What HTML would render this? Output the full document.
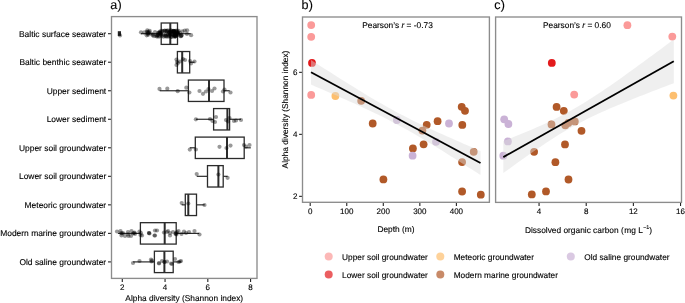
<!DOCTYPE html>
<html><head><meta charset="utf-8"><style>
html,body{margin:0;padding:0;background:#fff;width:685px;height:303px;overflow:hidden}
svg{display:block;will-change:transform}
text{font-family:"Liberation Sans", sans-serif;text-rendering:geometricPrecision;stroke:#000;stroke-width:0.12px}
</style></head><body>
<svg width="685" height="303" viewBox="0 0 685 303">
<rect width="685" height="303" fill="#fff"/>
<rect x="111.50" y="16.60" width="145.50" height="261.80" fill="none" stroke="#8c8c8c" stroke-width="1.35"/>
<line x1="141.00" y1="33.70" x2="161.20" y2="33.70" stroke="#2b2b2b" stroke-width="1.2" />
<line x1="177.50" y1="33.70" x2="190.60" y2="33.70" stroke="#2b2b2b" stroke-width="1.2" />
<rect x="161.20" y="23.00" width="16.30" height="21.40" fill="none" stroke="#2b2b2b" stroke-width="1.3"/>
<line x1="170.30" y1="23.00" x2="170.30" y2="44.40" stroke="#2b2b2b" stroke-width="2.0" />
<line x1="177.40" y1="62.23" x2="177.40" y2="62.23" stroke="#2b2b2b" stroke-width="1.2" />
<line x1="189.70" y1="62.23" x2="194.60" y2="62.23" stroke="#2b2b2b" stroke-width="1.2" />
<rect x="177.40" y="51.53" width="12.30" height="21.40" fill="none" stroke="#2b2b2b" stroke-width="1.3"/>
<line x1="182.20" y1="51.53" x2="182.20" y2="72.92" stroke="#2b2b2b" stroke-width="2.0" />
<line x1="159.70" y1="90.75" x2="188.40" y2="90.75" stroke="#2b2b2b" stroke-width="1.2" />
<line x1="224.00" y1="90.75" x2="229.70" y2="90.75" stroke="#2b2b2b" stroke-width="1.2" />
<rect x="188.40" y="80.05" width="35.60" height="21.40" fill="none" stroke="#2b2b2b" stroke-width="1.3"/>
<line x1="209.00" y1="80.05" x2="209.00" y2="101.45" stroke="#2b2b2b" stroke-width="2.0" />
<line x1="195.90" y1="119.27" x2="213.60" y2="119.27" stroke="#2b2b2b" stroke-width="1.2" />
<line x1="229.60" y1="119.27" x2="241.00" y2="119.27" stroke="#2b2b2b" stroke-width="1.2" />
<rect x="213.60" y="108.57" width="16.00" height="21.40" fill="none" stroke="#2b2b2b" stroke-width="1.3"/>
<line x1="227.40" y1="108.57" x2="227.40" y2="129.97" stroke="#2b2b2b" stroke-width="2.0" />
<line x1="189.80" y1="147.80" x2="195.30" y2="147.80" stroke="#2b2b2b" stroke-width="1.2" />
<line x1="244.20" y1="147.80" x2="250.80" y2="147.80" stroke="#2b2b2b" stroke-width="1.2" />
<rect x="195.30" y="137.10" width="48.90" height="21.40" fill="none" stroke="#2b2b2b" stroke-width="1.3"/>
<line x1="227.00" y1="137.10" x2="227.00" y2="158.50" stroke="#2b2b2b" stroke-width="2.0" />
<line x1="196.70" y1="176.32" x2="207.50" y2="176.32" stroke="#2b2b2b" stroke-width="1.2" />
<line x1="223.20" y1="176.32" x2="227.60" y2="176.32" stroke="#2b2b2b" stroke-width="1.2" />
<rect x="207.50" y="165.62" width="15.70" height="21.40" fill="none" stroke="#2b2b2b" stroke-width="1.3"/>
<line x1="218.40" y1="165.62" x2="218.40" y2="187.02" stroke="#2b2b2b" stroke-width="2.0" />
<line x1="181.70" y1="204.85" x2="185.30" y2="204.85" stroke="#2b2b2b" stroke-width="1.2" />
<line x1="196.50" y1="204.85" x2="204.70" y2="204.85" stroke="#2b2b2b" stroke-width="1.2" />
<rect x="185.30" y="194.15" width="11.20" height="21.40" fill="none" stroke="#2b2b2b" stroke-width="1.3"/>
<line x1="188.30" y1="194.15" x2="188.30" y2="215.55" stroke="#2b2b2b" stroke-width="2.0" />
<line x1="117.90" y1="233.38" x2="140.40" y2="233.38" stroke="#2b2b2b" stroke-width="1.2" />
<line x1="176.20" y1="233.38" x2="199.20" y2="233.38" stroke="#2b2b2b" stroke-width="1.2" />
<rect x="140.40" y="222.68" width="35.80" height="21.40" fill="none" stroke="#2b2b2b" stroke-width="1.3"/>
<line x1="164.70" y1="222.68" x2="164.70" y2="244.07" stroke="#2b2b2b" stroke-width="2.0" />
<line x1="133.10" y1="261.90" x2="154.40" y2="261.90" stroke="#2b2b2b" stroke-width="1.2" />
<line x1="173.20" y1="261.90" x2="181.00" y2="261.90" stroke="#2b2b2b" stroke-width="1.2" />
<rect x="154.40" y="251.20" width="18.80" height="21.40" fill="none" stroke="#2b2b2b" stroke-width="1.3"/>
<line x1="164.40" y1="251.20" x2="164.40" y2="272.60" stroke="#2b2b2b" stroke-width="2.0" />
<circle cx="141.00" cy="32.30" r="2.1" fill="#000" fill-opacity="0.4"/>
<circle cx="147.30" cy="30.30" r="2.1" fill="#000" fill-opacity="0.4"/>
<circle cx="148.50" cy="33.00" r="2.1" fill="#000" fill-opacity="0.4"/>
<circle cx="151.00" cy="33.50" r="2.1" fill="#000" fill-opacity="0.4"/>
<circle cx="153.00" cy="34.50" r="2.1" fill="#000" fill-opacity="0.4"/>
<circle cx="156.00" cy="36.00" r="2.1" fill="#000" fill-opacity="0.4"/>
<circle cx="155.00" cy="32.00" r="2.1" fill="#000" fill-opacity="0.4"/>
<circle cx="158.00" cy="33.00" r="2.1" fill="#000" fill-opacity="0.4"/>
<circle cx="160.00" cy="31.50" r="2.1" fill="#000" fill-opacity="0.4"/>
<circle cx="161.00" cy="34.50" r="2.1" fill="#000" fill-opacity="0.4"/>
<circle cx="162.00" cy="36.00" r="2.1" fill="#000" fill-opacity="0.4"/>
<circle cx="170.34" cy="34.70" r="2.1" fill="#000" fill-opacity="0.4"/>
<circle cx="175.32" cy="30.88" r="2.1" fill="#000" fill-opacity="0.4"/>
<circle cx="165.95" cy="30.78" r="2.1" fill="#000" fill-opacity="0.4"/>
<circle cx="170.61" cy="33.75" r="2.1" fill="#000" fill-opacity="0.4"/>
<circle cx="178.74" cy="30.86" r="2.1" fill="#000" fill-opacity="0.4"/>
<circle cx="173.62" cy="31.00" r="2.1" fill="#000" fill-opacity="0.4"/>
<circle cx="161.17" cy="31.22" r="2.1" fill="#000" fill-opacity="0.4"/>
<circle cx="177.56" cy="31.87" r="2.1" fill="#000" fill-opacity="0.4"/>
<circle cx="161.01" cy="34.21" r="2.1" fill="#000" fill-opacity="0.4"/>
<circle cx="160.66" cy="33.02" r="2.1" fill="#000" fill-opacity="0.4"/>
<circle cx="173.99" cy="36.07" r="2.1" fill="#000" fill-opacity="0.4"/>
<circle cx="171.70" cy="32.31" r="2.1" fill="#000" fill-opacity="0.4"/>
<circle cx="174.01" cy="32.44" r="2.1" fill="#000" fill-opacity="0.4"/>
<circle cx="174.56" cy="35.79" r="2.1" fill="#000" fill-opacity="0.4"/>
<circle cx="175.62" cy="34.62" r="2.1" fill="#000" fill-opacity="0.4"/>
<circle cx="179.78" cy="32.86" r="2.1" fill="#000" fill-opacity="0.4"/>
<circle cx="169.76" cy="30.79" r="2.1" fill="#000" fill-opacity="0.4"/>
<circle cx="171.31" cy="31.76" r="2.1" fill="#000" fill-opacity="0.4"/>
<circle cx="169.09" cy="32.47" r="2.1" fill="#000" fill-opacity="0.4"/>
<circle cx="165.78" cy="34.26" r="2.1" fill="#000" fill-opacity="0.4"/>
<circle cx="166.75" cy="35.64" r="2.1" fill="#000" fill-opacity="0.4"/>
<circle cx="173.59" cy="35.01" r="2.1" fill="#000" fill-opacity="0.4"/>
<circle cx="172.32" cy="33.87" r="2.1" fill="#000" fill-opacity="0.4"/>
<circle cx="180.49" cy="36.18" r="2.1" fill="#000" fill-opacity="0.4"/>
<circle cx="171.31" cy="36.87" r="2.1" fill="#000" fill-opacity="0.4"/>
<circle cx="166.69" cy="31.18" r="2.1" fill="#000" fill-opacity="0.4"/>
<circle cx="162.48" cy="31.40" r="2.1" fill="#000" fill-opacity="0.4"/>
<circle cx="177.38" cy="33.63" r="2.1" fill="#000" fill-opacity="0.4"/>
<circle cx="181.36" cy="35.45" r="2.1" fill="#000" fill-opacity="0.4"/>
<circle cx="174.35" cy="34.18" r="2.1" fill="#000" fill-opacity="0.4"/>
<circle cx="176.00" cy="34.99" r="2.1" fill="#000" fill-opacity="0.4"/>
<circle cx="168.02" cy="34.32" r="2.1" fill="#000" fill-opacity="0.4"/>
<circle cx="165.71" cy="35.94" r="2.1" fill="#000" fill-opacity="0.4"/>
<circle cx="168.55" cy="36.63" r="2.1" fill="#000" fill-opacity="0.4"/>
<circle cx="162.52" cy="30.80" r="2.1" fill="#000" fill-opacity="0.4"/>
<circle cx="173.56" cy="35.03" r="2.1" fill="#000" fill-opacity="0.4"/>
<circle cx="159.65" cy="35.82" r="2.1" fill="#000" fill-opacity="0.4"/>
<circle cx="159.00" cy="32.28" r="2.1" fill="#000" fill-opacity="0.4"/>
<circle cx="164.72" cy="30.55" r="2.1" fill="#000" fill-opacity="0.4"/>
<circle cx="178.35" cy="33.45" r="2.1" fill="#000" fill-opacity="0.4"/>
<circle cx="173.60" cy="30.79" r="2.1" fill="#000" fill-opacity="0.4"/>
<circle cx="174.82" cy="35.47" r="2.1" fill="#000" fill-opacity="0.4"/>
<circle cx="175.37" cy="32.98" r="2.1" fill="#000" fill-opacity="0.4"/>
<circle cx="175.56" cy="36.15" r="2.1" fill="#000" fill-opacity="0.4"/>
<circle cx="178.21" cy="34.03" r="2.1" fill="#000" fill-opacity="0.4"/>
<circle cx="175.44" cy="36.23" r="2.1" fill="#000" fill-opacity="0.4"/>
<circle cx="177.47" cy="32.24" r="2.1" fill="#000" fill-opacity="0.4"/>
<circle cx="160.23" cy="33.14" r="2.1" fill="#000" fill-opacity="0.4"/>
<circle cx="163.48" cy="36.72" r="2.1" fill="#000" fill-opacity="0.4"/>
<circle cx="182.47" cy="31.40" r="2.1" fill="#000" fill-opacity="0.4"/>
<circle cx="174.11" cy="31.94" r="2.1" fill="#000" fill-opacity="0.4"/>
<circle cx="176.22" cy="33.60" r="2.1" fill="#000" fill-opacity="0.4"/>
<circle cx="167.70" cy="30.43" r="2.1" fill="#000" fill-opacity="0.4"/>
<circle cx="169.30" cy="33.17" r="2.1" fill="#000" fill-opacity="0.4"/>
<circle cx="166.28" cy="36.69" r="2.1" fill="#000" fill-opacity="0.4"/>
<circle cx="178.15" cy="34.96" r="2.1" fill="#000" fill-opacity="0.4"/>
<circle cx="163.03" cy="34.86" r="2.1" fill="#000" fill-opacity="0.4"/>
<circle cx="171.12" cy="30.76" r="2.1" fill="#000" fill-opacity="0.4"/>
<circle cx="181.13" cy="36.17" r="2.1" fill="#000" fill-opacity="0.4"/>
<circle cx="165.32" cy="35.67" r="2.1" fill="#000" fill-opacity="0.4"/>
<circle cx="166.88" cy="31.08" r="2.1" fill="#000" fill-opacity="0.4"/>
<circle cx="176.10" cy="34.59" r="2.1" fill="#000" fill-opacity="0.4"/>
<circle cx="174.24" cy="31.78" r="2.1" fill="#000" fill-opacity="0.4"/>
<circle cx="172.93" cy="31.47" r="2.1" fill="#000" fill-opacity="0.4"/>
<circle cx="170.85" cy="30.40" r="2.1" fill="#000" fill-opacity="0.4"/>
<circle cx="173.80" cy="31.40" r="2.1" fill="#000" fill-opacity="0.4"/>
<circle cx="176.97" cy="30.57" r="2.1" fill="#000" fill-opacity="0.4"/>
<circle cx="175.68" cy="36.17" r="2.1" fill="#000" fill-opacity="0.4"/>
<circle cx="169.22" cy="32.06" r="2.1" fill="#000" fill-opacity="0.4"/>
<circle cx="169.58" cy="32.69" r="2.1" fill="#000" fill-opacity="0.4"/>
<circle cx="169.81" cy="36.00" r="2.1" fill="#000" fill-opacity="0.4"/>
<circle cx="174.51" cy="36.95" r="2.1" fill="#000" fill-opacity="0.4"/>
<circle cx="164.69" cy="30.97" r="2.1" fill="#000" fill-opacity="0.4"/>
<circle cx="173.59" cy="31.07" r="2.1" fill="#000" fill-opacity="0.4"/>
<circle cx="169.20" cy="35.87" r="2.1" fill="#000" fill-opacity="0.4"/>
<circle cx="176.26" cy="31.47" r="2.1" fill="#000" fill-opacity="0.4"/>
<circle cx="187.00" cy="33.89" r="2.1" fill="#000" fill-opacity="0.4"/>
<circle cx="174.31" cy="31.37" r="2.1" fill="#000" fill-opacity="0.4"/>
<circle cx="170.53" cy="33.89" r="2.1" fill="#000" fill-opacity="0.4"/>
<circle cx="171.59" cy="36.86" r="2.1" fill="#000" fill-opacity="0.4"/>
<circle cx="157.81" cy="34.88" r="2.1" fill="#000" fill-opacity="0.4"/>
<circle cx="148.18" cy="32.90" r="2.1" fill="#000" fill-opacity="0.4"/>
<circle cx="146.67" cy="35.33" r="2.1" fill="#000" fill-opacity="0.4"/>
<circle cx="152.52" cy="35.37" r="2.1" fill="#000" fill-opacity="0.4"/>
<circle cx="149.27" cy="32.04" r="2.1" fill="#000" fill-opacity="0.4"/>
<circle cx="156.98" cy="36.61" r="2.1" fill="#000" fill-opacity="0.4"/>
<circle cx="157.64" cy="35.54" r="2.1" fill="#000" fill-opacity="0.4"/>
<circle cx="157.09" cy="35.14" r="2.1" fill="#000" fill-opacity="0.4"/>
<circle cx="147.63" cy="33.81" r="2.1" fill="#000" fill-opacity="0.4"/>
<circle cx="149.69" cy="30.87" r="2.1" fill="#000" fill-opacity="0.4"/>
<circle cx="144.45" cy="32.38" r="2.1" fill="#000" fill-opacity="0.4"/>
<circle cx="148.15" cy="34.86" r="2.1" fill="#000" fill-opacity="0.4"/>
<circle cx="159.30" cy="33.38" r="2.1" fill="#000" fill-opacity="0.4"/>
<circle cx="158.99" cy="36.63" r="2.1" fill="#000" fill-opacity="0.4"/>
<circle cx="159.28" cy="32.89" r="2.1" fill="#000" fill-opacity="0.4"/>
<circle cx="147.53" cy="32.06" r="2.1" fill="#000" fill-opacity="0.4"/>
<circle cx="147.15" cy="31.93" r="2.1" fill="#000" fill-opacity="0.4"/>
<circle cx="153.99" cy="36.10" r="2.1" fill="#000" fill-opacity="0.4"/>
<circle cx="184.80" cy="30.60" r="2.1" fill="#000" fill-opacity="0.4"/>
<circle cx="187.10" cy="30.30" r="2.1" fill="#000" fill-opacity="0.4"/>
<circle cx="191.10" cy="35.20" r="2.1" fill="#000" fill-opacity="0.4"/>
<circle cx="181.50" cy="35.20" r="2.1" fill="#000" fill-opacity="0.4"/>
<circle cx="120.00" cy="35.40" r="2.1" fill="#000" fill-opacity="0.4"/>
<circle cx="176.50" cy="59.50" r="2.1" fill="#000" fill-opacity="0.4"/>
<circle cx="177.00" cy="62.00" r="2.1" fill="#000" fill-opacity="0.4"/>
<circle cx="176.50" cy="65.00" r="2.1" fill="#000" fill-opacity="0.4"/>
<circle cx="178.00" cy="63.00" r="2.1" fill="#000" fill-opacity="0.4"/>
<circle cx="183.00" cy="59.00" r="2.1" fill="#000" fill-opacity="0.4"/>
<circle cx="185.00" cy="60.00" r="2.1" fill="#000" fill-opacity="0.4"/>
<circle cx="190.00" cy="61.00" r="2.1" fill="#000" fill-opacity="0.4"/>
<circle cx="191.00" cy="63.50" r="2.1" fill="#000" fill-opacity="0.4"/>
<circle cx="194.50" cy="61.50" r="2.1" fill="#000" fill-opacity="0.4"/>
<circle cx="180.00" cy="61.50" r="2.1" fill="#000" fill-opacity="0.4"/>
<circle cx="159.50" cy="88.90" r="2.1" fill="#000" fill-opacity="0.4"/>
<circle cx="167.30" cy="88.70" r="2.1" fill="#000" fill-opacity="0.4"/>
<circle cx="177.70" cy="91.20" r="2.1" fill="#000" fill-opacity="0.4"/>
<circle cx="186.30" cy="87.70" r="2.1" fill="#000" fill-opacity="0.4"/>
<circle cx="189.40" cy="92.50" r="2.1" fill="#000" fill-opacity="0.4"/>
<circle cx="199.50" cy="91.00" r="2.1" fill="#000" fill-opacity="0.4"/>
<circle cx="203.00" cy="93.80" r="2.1" fill="#000" fill-opacity="0.4"/>
<circle cx="206.00" cy="91.50" r="2.1" fill="#000" fill-opacity="0.4"/>
<circle cx="208.50" cy="89.00" r="2.1" fill="#000" fill-opacity="0.4"/>
<circle cx="212.00" cy="91.00" r="2.1" fill="#000" fill-opacity="0.4"/>
<circle cx="214.50" cy="88.50" r="2.1" fill="#000" fill-opacity="0.4"/>
<circle cx="223.00" cy="91.50" r="2.1" fill="#000" fill-opacity="0.4"/>
<circle cx="224.50" cy="89.50" r="2.1" fill="#000" fill-opacity="0.4"/>
<circle cx="230.50" cy="92.50" r="2.1" fill="#000" fill-opacity="0.4"/>
<circle cx="195.90" cy="119.30" r="2.1" fill="#000" fill-opacity="0.4"/>
<circle cx="210.00" cy="119.00" r="2.1" fill="#000" fill-opacity="0.4"/>
<circle cx="212.50" cy="121.00" r="2.1" fill="#000" fill-opacity="0.4"/>
<circle cx="216.00" cy="117.00" r="2.1" fill="#000" fill-opacity="0.4"/>
<circle cx="215.00" cy="122.00" r="2.1" fill="#000" fill-opacity="0.4"/>
<circle cx="226.00" cy="120.00" r="2.1" fill="#000" fill-opacity="0.4"/>
<circle cx="228.00" cy="121.50" r="2.1" fill="#000" fill-opacity="0.4"/>
<circle cx="229.50" cy="118.00" r="2.1" fill="#000" fill-opacity="0.4"/>
<circle cx="234.00" cy="121.00" r="2.1" fill="#000" fill-opacity="0.4"/>
<circle cx="236.00" cy="120.50" r="2.1" fill="#000" fill-opacity="0.4"/>
<circle cx="241.00" cy="120.00" r="2.1" fill="#000" fill-opacity="0.4"/>
<circle cx="189.80" cy="149.60" r="2.1" fill="#000" fill-opacity="0.4"/>
<circle cx="195.90" cy="149.50" r="2.1" fill="#000" fill-opacity="0.4"/>
<circle cx="219.50" cy="146.80" r="2.1" fill="#000" fill-opacity="0.4"/>
<circle cx="226.50" cy="148.00" r="2.1" fill="#000" fill-opacity="0.4"/>
<circle cx="230.50" cy="145.60" r="2.1" fill="#000" fill-opacity="0.4"/>
<circle cx="244.00" cy="145.00" r="2.1" fill="#000" fill-opacity="0.4"/>
<circle cx="249.50" cy="145.00" r="2.1" fill="#000" fill-opacity="0.4"/>
<circle cx="246.00" cy="146.50" r="2.1" fill="#000" fill-opacity="0.4"/>
<circle cx="196.70" cy="174.00" r="2.1" fill="#000" fill-opacity="0.4"/>
<circle cx="218.40" cy="174.50" r="2.1" fill="#000" fill-opacity="0.4"/>
<circle cx="227.60" cy="177.80" r="2.1" fill="#000" fill-opacity="0.4"/>
<circle cx="181.70" cy="203.00" r="2.1" fill="#000" fill-opacity="0.4"/>
<circle cx="188.30" cy="203.50" r="2.1" fill="#000" fill-opacity="0.4"/>
<circle cx="204.50" cy="205.00" r="2.1" fill="#000" fill-opacity="0.4"/>
<circle cx="117.00" cy="231.50" r="2.1" fill="#000" fill-opacity="0.4"/>
<circle cx="120.50" cy="231.00" r="2.1" fill="#000" fill-opacity="0.4"/>
<circle cx="121.50" cy="235.50" r="2.1" fill="#000" fill-opacity="0.4"/>
<circle cx="123.00" cy="233.00" r="2.1" fill="#000" fill-opacity="0.4"/>
<circle cx="125.00" cy="236.00" r="2.1" fill="#000" fill-opacity="0.4"/>
<circle cx="128.00" cy="234.50" r="2.1" fill="#000" fill-opacity="0.4"/>
<circle cx="128.50" cy="236.00" r="2.1" fill="#000" fill-opacity="0.4"/>
<circle cx="131.00" cy="236.00" r="2.1" fill="#000" fill-opacity="0.4"/>
<circle cx="128.00" cy="232.00" r="2.1" fill="#000" fill-opacity="0.4"/>
<circle cx="131.50" cy="231.00" r="2.1" fill="#000" fill-opacity="0.4"/>
<circle cx="134.00" cy="233.00" r="2.1" fill="#000" fill-opacity="0.4"/>
<circle cx="135.00" cy="234.00" r="2.1" fill="#000" fill-opacity="0.4"/>
<circle cx="139.50" cy="231.50" r="2.1" fill="#000" fill-opacity="0.4"/>
<circle cx="140.50" cy="235.00" r="2.1" fill="#000" fill-opacity="0.4"/>
<circle cx="142.00" cy="235.50" r="2.1" fill="#000" fill-opacity="0.4"/>
<circle cx="149.00" cy="233.00" r="2.1" fill="#000" fill-opacity="0.4"/>
<circle cx="149.00" cy="233.00" r="2.1" fill="#000" fill-opacity="0.4"/>
<circle cx="149.50" cy="233.50" r="2.1" fill="#000" fill-opacity="0.4"/>
<circle cx="155.00" cy="230.50" r="2.1" fill="#000" fill-opacity="0.4"/>
<circle cx="155.00" cy="235.50" r="2.1" fill="#000" fill-opacity="0.4"/>
<circle cx="164.00" cy="232.50" r="2.1" fill="#000" fill-opacity="0.4"/>
<circle cx="157.00" cy="230.50" r="2.1" fill="#000" fill-opacity="0.4"/>
<circle cx="154.50" cy="235.50" r="2.1" fill="#000" fill-opacity="0.4"/>
<circle cx="168.00" cy="231.00" r="2.1" fill="#000" fill-opacity="0.4"/>
<circle cx="170.00" cy="235.50" r="2.1" fill="#000" fill-opacity="0.4"/>
<circle cx="173.00" cy="232.00" r="2.1" fill="#000" fill-opacity="0.4"/>
<circle cx="176.00" cy="233.50" r="2.1" fill="#000" fill-opacity="0.4"/>
<circle cx="176.50" cy="234.50" r="2.1" fill="#000" fill-opacity="0.4"/>
<circle cx="178.50" cy="231.00" r="2.1" fill="#000" fill-opacity="0.4"/>
<circle cx="181.50" cy="234.00" r="2.1" fill="#000" fill-opacity="0.4"/>
<circle cx="184.00" cy="231.50" r="2.1" fill="#000" fill-opacity="0.4"/>
<circle cx="186.00" cy="233.00" r="2.1" fill="#000" fill-opacity="0.4"/>
<circle cx="189.00" cy="232.00" r="2.1" fill="#000" fill-opacity="0.4"/>
<circle cx="194.50" cy="231.00" r="2.1" fill="#000" fill-opacity="0.4"/>
<circle cx="199.50" cy="234.50" r="2.1" fill="#000" fill-opacity="0.4"/>
<circle cx="176.00" cy="233.00" r="2.1" fill="#000" fill-opacity="0.4"/>
<circle cx="177.00" cy="232.00" r="2.1" fill="#000" fill-opacity="0.4"/>
<circle cx="175.50" cy="234.00" r="2.1" fill="#000" fill-opacity="0.4"/>
<circle cx="121.00" cy="233.00" r="2.1" fill="#000" fill-opacity="0.4"/>
<circle cx="122.00" cy="233.50" r="2.1" fill="#000" fill-opacity="0.4"/>
<circle cx="133.00" cy="233.50" r="2.1" fill="#000" fill-opacity="0.4"/>
<circle cx="134.50" cy="232.50" r="2.1" fill="#000" fill-opacity="0.4"/>
<circle cx="141.00" cy="233.00" r="2.1" fill="#000" fill-opacity="0.4"/>
<circle cx="167.00" cy="232.00" r="2.1" fill="#000" fill-opacity="0.4"/>
<circle cx="170.00" cy="233.00" r="2.1" fill="#000" fill-opacity="0.4"/>
<circle cx="133.00" cy="263.00" r="2.1" fill="#000" fill-opacity="0.4"/>
<circle cx="139.50" cy="261.00" r="2.1" fill="#000" fill-opacity="0.4"/>
<circle cx="151.00" cy="259.50" r="2.1" fill="#000" fill-opacity="0.4"/>
<circle cx="151.50" cy="261.50" r="2.1" fill="#000" fill-opacity="0.4"/>
<circle cx="159.00" cy="263.00" r="2.1" fill="#000" fill-opacity="0.4"/>
<circle cx="162.00" cy="261.00" r="2.1" fill="#000" fill-opacity="0.4"/>
<circle cx="164.50" cy="262.00" r="2.1" fill="#000" fill-opacity="0.4"/>
<circle cx="164.50" cy="262.00" r="2.1" fill="#000" fill-opacity="0.4"/>
<circle cx="167.00" cy="261.50" r="2.1" fill="#000" fill-opacity="0.4"/>
<circle cx="172.00" cy="264.00" r="2.1" fill="#000" fill-opacity="0.4"/>
<circle cx="175.00" cy="259.00" r="2.1" fill="#000" fill-opacity="0.4"/>
<circle cx="178.50" cy="262.00" r="2.1" fill="#000" fill-opacity="0.4"/>
<circle cx="181.00" cy="261.00" r="2.1" fill="#000" fill-opacity="0.4"/>
<circle cx="159.00" cy="263.50" r="2.1" fill="#000" fill-opacity="0.4"/>
<circle cx="171.00" cy="263.50" r="2.1" fill="#000" fill-opacity="0.4"/>
<circle cx="180.00" cy="261.50" r="2.1" fill="#000" fill-opacity="0.4"/>
<circle cx="152.00" cy="260.50" r="2.1" fill="#000" fill-opacity="0.4"/>
<rect x="117.8" y="31.2" width="3.2" height="4.7" fill="#000" fill-opacity="0.85"/>
<line x1="108.00" y1="33.70" x2="110.90" y2="33.70" stroke="#222" stroke-width="1.1" />
<text x="106.20" y="36.70" font-size="8.45" text-anchor="end" fill="#000" >Baltic surface seawater</text>
<line x1="108.00" y1="62.23" x2="110.90" y2="62.23" stroke="#222" stroke-width="1.1" />
<text x="106.20" y="65.22" font-size="8.45" text-anchor="end" fill="#000" >Baltic benthic seawater</text>
<line x1="108.00" y1="90.75" x2="110.90" y2="90.75" stroke="#222" stroke-width="1.1" />
<text x="106.20" y="93.75" font-size="8.45" text-anchor="end" fill="#000" >Upper sediment</text>
<line x1="108.00" y1="119.27" x2="110.90" y2="119.27" stroke="#222" stroke-width="1.1" />
<text x="106.20" y="122.27" font-size="8.45" text-anchor="end" fill="#000" >Lower sediment</text>
<line x1="108.00" y1="147.80" x2="110.90" y2="147.80" stroke="#222" stroke-width="1.1" />
<text x="106.20" y="150.80" font-size="8.45" text-anchor="end" fill="#000" >Upper soil groundwater</text>
<line x1="108.00" y1="176.32" x2="110.90" y2="176.32" stroke="#222" stroke-width="1.1" />
<text x="106.20" y="179.32" font-size="8.45" text-anchor="end" fill="#000" >Lower soil groundwater</text>
<line x1="108.00" y1="204.85" x2="110.90" y2="204.85" stroke="#222" stroke-width="1.1" />
<text x="106.20" y="207.85" font-size="8.45" text-anchor="end" fill="#000" >Meteoric groundwater</text>
<line x1="108.00" y1="233.38" x2="110.90" y2="233.38" stroke="#222" stroke-width="1.1" />
<text x="106.20" y="236.38" font-size="8.45" text-anchor="end" fill="#000" >Modern marine groundwater</text>
<line x1="108.00" y1="261.90" x2="110.90" y2="261.90" stroke="#222" stroke-width="1.1" />
<text x="106.20" y="264.90" font-size="8.45" text-anchor="end" fill="#000" >Old saline groundwater</text>
<line x1="122.29" y1="279.00" x2="122.29" y2="282.00" stroke="#222" stroke-width="1.1" />
<text x="122.29" y="290.20" font-size="8.0" text-anchor="middle" fill="#000" >2</text>
<line x1="165.05" y1="279.00" x2="165.05" y2="282.00" stroke="#222" stroke-width="1.1" />
<text x="165.05" y="290.20" font-size="8.0" text-anchor="middle" fill="#000" >4</text>
<line x1="207.81" y1="279.00" x2="207.81" y2="282.00" stroke="#222" stroke-width="1.1" />
<text x="207.81" y="290.20" font-size="8.0" text-anchor="middle" fill="#000" >6</text>
<line x1="250.57" y1="279.00" x2="250.57" y2="282.00" stroke="#222" stroke-width="1.1" />
<text x="250.57" y="290.20" font-size="8.0" text-anchor="middle" fill="#000" >8</text>
<text x="184.25" y="300.80" font-size="8.35" text-anchor="middle" fill="#000" >Alpha diversity (Shannon index)</text>
<text x="110.20" y="9.30" font-size="12.6" text-anchor="start" fill="#000" letter-spacing="0.2">a)</text>
<circle cx="311.20" cy="25.10" r="3.9" fill="#FB9A99"/>
<circle cx="311.20" cy="36.80" r="3.9" fill="#FB9A99"/>
<circle cx="311.20" cy="94.90" r="3.9" fill="#FB9A99"/>
<circle cx="312.00" cy="62.90" r="3.9" fill="#E31A1C"/>
<circle cx="335.40" cy="96.00" r="3.9" fill="#FDBF6F"/>
<circle cx="361.20" cy="100.80" r="3.9" fill="#B15928"/>
<circle cx="372.70" cy="123.50" r="3.9" fill="#B15928"/>
<circle cx="383.40" cy="179.40" r="3.9" fill="#B15928"/>
<circle cx="412.90" cy="148.50" r="3.9" fill="#B15928"/>
<circle cx="423.60" cy="144.30" r="3.9" fill="#B15928"/>
<circle cx="422.40" cy="130.60" r="3.9" fill="#B15928"/>
<circle cx="426.70" cy="124.80" r="3.9" fill="#B15928"/>
<circle cx="437.60" cy="121.20" r="3.9" fill="#B15928"/>
<circle cx="461.70" cy="106.80" r="3.9" fill="#B15928"/>
<circle cx="465.00" cy="110.80" r="3.9" fill="#B15928"/>
<circle cx="462.30" cy="124.90" r="3.9" fill="#B15928"/>
<circle cx="473.70" cy="151.80" r="3.9" fill="#B15928"/>
<circle cx="462.10" cy="162.10" r="3.9" fill="#B15928"/>
<circle cx="462.10" cy="191.50" r="3.9" fill="#B15928"/>
<circle cx="480.80" cy="194.70" r="3.9" fill="#B15928"/>
<circle cx="396.90" cy="120.00" r="3.9" fill="#CAB2D6"/>
<circle cx="412.60" cy="155.70" r="3.9" fill="#CAB2D6"/>
<circle cx="436.00" cy="141.80" r="3.9" fill="#CAB2D6"/>
<circle cx="449.00" cy="123.50" r="3.9" fill="#CAB2D6"/>
<path d="M311.00,60.00 L315.24,62.72 L319.48,65.44 L323.71,68.16 L327.95,70.86 L332.19,73.56 L336.43,76.25 L340.66,78.93 L344.90,81.59 L349.14,84.24 L353.38,86.87 L357.61,89.48 L361.85,92.08 L366.09,94.64 L370.32,97.18 L374.56,99.69 L378.80,102.16 L383.04,104.60 L387.27,106.99 L391.51,109.34 L395.75,111.65 L399.99,113.91 L404.23,116.12 L408.46,118.28 L412.70,120.41 L416.94,122.49 L421.18,124.54 L425.41,126.55 L429.65,128.54 L433.89,130.49 L438.12,132.43 L442.36,134.34 L446.60,136.24 L450.84,138.12 L455.07,139.98 L459.31,141.84 L463.55,143.68 L467.79,145.51 L472.02,147.34 L476.26,149.16 L480.50,150.97 L480.50,175.03 L476.26,172.31 L472.02,169.59 L467.79,166.88 L463.55,164.18 L459.31,161.49 L455.07,158.81 L450.84,156.14 L446.60,153.48 L442.36,150.84 L438.12,148.22 L433.89,145.62 L429.65,143.04 L425.41,140.49 L421.18,137.97 L416.94,135.48 L412.70,133.03 L408.46,130.62 L404.23,128.25 L399.99,125.93 L395.75,123.65 L391.51,121.42 L387.27,119.24 L383.04,117.10 L378.80,115.00 L374.56,112.93 L370.32,110.91 L366.09,108.91 L361.85,106.94 L357.61,105.00 L353.38,103.08 L349.14,101.18 L344.90,99.29 L340.66,97.42 L336.43,95.56 L332.19,93.71 L327.95,91.88 L323.71,90.05 L319.48,88.23 L315.24,86.41 L311.00,84.60 Z" fill="rgb(220,220,220)" fill-opacity="0.46"/>
<line x1="311.00" y1="72.30" x2="480.50" y2="163.00" stroke="#000" stroke-width="1.8" />
<rect x="302.50" y="17.00" width="186.90" height="185.30" fill="none" stroke="#8c8c8c" stroke-width="1.35"/>
<line x1="299.10" y1="196.35" x2="301.90" y2="196.35" stroke="#222" stroke-width="1.1" />
<text x="297.50" y="199.45" font-size="8.0" text-anchor="end" fill="#000" >2</text>
<line x1="299.10" y1="134.35" x2="301.90" y2="134.35" stroke="#222" stroke-width="1.1" />
<text x="297.50" y="137.45" font-size="8.0" text-anchor="end" fill="#000" >4</text>
<line x1="299.10" y1="72.35" x2="301.90" y2="72.35" stroke="#222" stroke-width="1.1" />
<text x="297.50" y="75.45" font-size="8.0" text-anchor="end" fill="#000" >6</text>
<line x1="310.20" y1="202.90" x2="310.20" y2="205.90" stroke="#222" stroke-width="1.1" />
<text x="310.20" y="214.20" font-size="8.0" text-anchor="middle" fill="#000" >0</text>
<line x1="346.75" y1="202.90" x2="346.75" y2="205.90" stroke="#222" stroke-width="1.1" />
<text x="346.75" y="214.20" font-size="8.0" text-anchor="middle" fill="#000" >100</text>
<line x1="383.30" y1="202.90" x2="383.30" y2="205.90" stroke="#222" stroke-width="1.1" />
<text x="383.30" y="214.20" font-size="8.0" text-anchor="middle" fill="#000" >200</text>
<line x1="419.85" y1="202.90" x2="419.85" y2="205.90" stroke="#222" stroke-width="1.1" />
<text x="419.85" y="214.20" font-size="8.0" text-anchor="middle" fill="#000" >300</text>
<line x1="456.40" y1="202.90" x2="456.40" y2="205.90" stroke="#222" stroke-width="1.1" />
<text x="456.40" y="214.20" font-size="8.0" text-anchor="middle" fill="#000" >400</text>
<text x="395.95" y="232.00" font-size="8.35" text-anchor="middle" fill="#000" >Depth (m)</text>
<text x="0" y="0" font-size="8.35" text-anchor="middle" fill="#000" transform="translate(288.4,109.5) rotate(-90)">Alpha diversity (Shannon index)</text>
<text x="362.20" y="27.50" font-size="8.35" text-anchor="start" fill="#000" >Pearson’s <tspan font-style="italic">r</tspan> = -0.73</text>
<text x="301.50" y="9.30" font-size="12.6" text-anchor="start" fill="#000" letter-spacing="0.2">b)</text>
<circle cx="627.40" cy="25.20" r="3.9" fill="#FB9A99"/>
<circle cx="672.30" cy="36.60" r="3.9" fill="#FB9A99"/>
<circle cx="551.80" cy="62.90" r="3.9" fill="#E31A1C"/>
<circle cx="574.20" cy="94.60" r="3.9" fill="#FB9A99"/>
<circle cx="673.40" cy="95.60" r="3.9" fill="#FDBF6F"/>
<circle cx="556.60" cy="106.90" r="3.9" fill="#B15928"/>
<circle cx="563.80" cy="110.80" r="3.9" fill="#B15928"/>
<circle cx="504.20" cy="119.30" r="3.9" fill="#CAB2D6"/>
<circle cx="574.80" cy="121.40" r="3.9" fill="#B15928"/>
<circle cx="508.40" cy="124.00" r="3.9" fill="#CAB2D6"/>
<circle cx="568.30" cy="122.90" r="3.9" fill="#B15928"/>
<circle cx="565.30" cy="125.30" r="3.9" fill="#B15928"/>
<circle cx="551.50" cy="124.40" r="3.9" fill="#B15928"/>
<circle cx="581.50" cy="130.80" r="3.9" fill="#B15928"/>
<circle cx="507.90" cy="141.40" r="3.9" fill="#CAB2D6"/>
<circle cx="565.00" cy="144.40" r="3.9" fill="#B15928"/>
<circle cx="534.10" cy="151.80" r="3.9" fill="#B15928"/>
<circle cx="503.30" cy="155.70" r="3.9" fill="#CAB2D6"/>
<circle cx="555.40" cy="162.20" r="3.9" fill="#B15928"/>
<circle cx="568.50" cy="179.50" r="3.9" fill="#B15928"/>
<circle cx="546.00" cy="191.40" r="3.9" fill="#B15928"/>
<circle cx="531.80" cy="194.40" r="3.9" fill="#B15928"/>
<path d="M503.30,141.11 L507.56,139.42 L511.82,137.71 L516.09,136.00 L520.35,134.26 L524.61,132.50 L528.88,130.71 L533.14,128.89 L537.40,127.04 L541.66,125.15 L545.92,123.22 L550.19,121.23 L554.45,119.18 L558.71,117.07 L562.98,114.88 L567.24,112.62 L571.50,110.27 L575.76,107.85 L580.02,105.33 L584.29,102.74 L588.55,100.08 L592.81,97.35 L597.07,94.56 L601.34,91.71 L605.60,88.82 L609.86,85.88 L614.12,82.91 L618.39,79.92 L622.65,76.89 L626.91,73.84 L631.17,70.77 L635.44,67.69 L639.70,64.59 L643.96,61.48 L648.22,58.35 L652.49,55.22 L656.75,52.08 L661.01,48.93 L665.27,45.77 L669.54,42.61 L673.80,39.44 L673.80,83.13 L669.54,84.76 L665.27,86.38 L661.01,88.02 L656.75,89.66 L652.49,91.31 L648.22,92.96 L643.96,94.63 L639.70,96.31 L635.44,98.00 L631.17,99.71 L626.91,101.43 L622.65,103.17 L618.39,104.94 L614.12,106.73 L609.86,108.55 L605.60,110.41 L601.34,112.31 L597.07,114.25 L592.81,116.25 L588.55,118.31 L584.29,120.43 L580.02,122.63 L575.76,124.91 L571.50,127.28 L567.24,129.72 L562.98,132.25 L558.71,134.85 L554.45,137.53 L550.19,140.27 L545.92,143.07 L541.66,145.93 L537.40,148.83 L533.14,151.77 L528.88,154.75 L524.61,157.75 L520.35,160.78 L516.09,163.83 L511.82,166.90 L507.56,169.99 L503.30,173.09 Z" fill="rgb(220,220,220)" fill-opacity="0.46"/>
<line x1="503.30" y1="157.10" x2="673.80" y2="61.29" stroke="#000" stroke-width="1.8" />
<rect x="495.60" y="17.00" width="185.90" height="185.40" fill="none" stroke="#8c8c8c" stroke-width="1.35"/>
<line x1="539.06" y1="203.00" x2="539.06" y2="206.00" stroke="#222" stroke-width="1.1" />
<text x="539.06" y="214.20" font-size="8.0" text-anchor="middle" fill="#000" >4</text>
<line x1="586.22" y1="203.00" x2="586.22" y2="206.00" stroke="#222" stroke-width="1.1" />
<text x="586.22" y="214.20" font-size="8.0" text-anchor="middle" fill="#000" >8</text>
<line x1="633.38" y1="203.00" x2="633.38" y2="206.00" stroke="#222" stroke-width="1.1" />
<text x="633.38" y="214.20" font-size="8.0" text-anchor="middle" fill="#000" >12</text>
<line x1="680.54" y1="203.00" x2="680.54" y2="206.00" stroke="#222" stroke-width="1.1" />
<text x="680.54" y="214.20" font-size="8.0" text-anchor="middle" fill="#000" >16</text>
<text x="588.55" y="232.60" font-size="8.35" text-anchor="middle" fill="#000" >Dissolved organic carbon (<tspan dx="0.6">mg</tspan> L<tspan font-size="5.4" dy="-3.6" dx="0.3">−1</tspan><tspan dy="3.6">)</tspan></text>
<text x="543.00" y="27.50" font-size="8.35" text-anchor="start" fill="#000" >Pearson’s <tspan font-style="italic">r</tspan> = 0.60</text>
<text x="494.20" y="9.30" font-size="12.6" text-anchor="start" fill="#000" letter-spacing="0.2">c)</text>
<circle cx="328.70" cy="256.50" r="4.0" fill="#FB9A99" fill-opacity="0.7"/>
<text x="342.10" y="260.10" font-size="8.3" text-anchor="start" fill="#000" >Upper soil groundwater</text>
<circle cx="328.70" cy="274.40" r="4.0" fill="#E31A1C" fill-opacity="0.7"/>
<text x="342.10" y="278.00" font-size="8.3" text-anchor="start" fill="#000" >Lower soil groundwater</text>
<circle cx="440.30" cy="256.50" r="4.0" fill="#FDBF6F" fill-opacity="0.7"/>
<text x="453.70" y="260.10" font-size="8.3" text-anchor="start" fill="#000" >Meteoric groundwater</text>
<circle cx="440.30" cy="274.40" r="4.0" fill="#B15928" fill-opacity="0.7"/>
<text x="453.70" y="278.00" font-size="8.3" text-anchor="start" fill="#000" >Modern marine groundwater</text>
<circle cx="570.80" cy="256.50" r="4.0" fill="#CAB2D6" fill-opacity="0.7"/>
<text x="584.20" y="260.10" font-size="8.3" text-anchor="start" fill="#000" >Old saline groundwater</text>
</svg>
</body></html>
